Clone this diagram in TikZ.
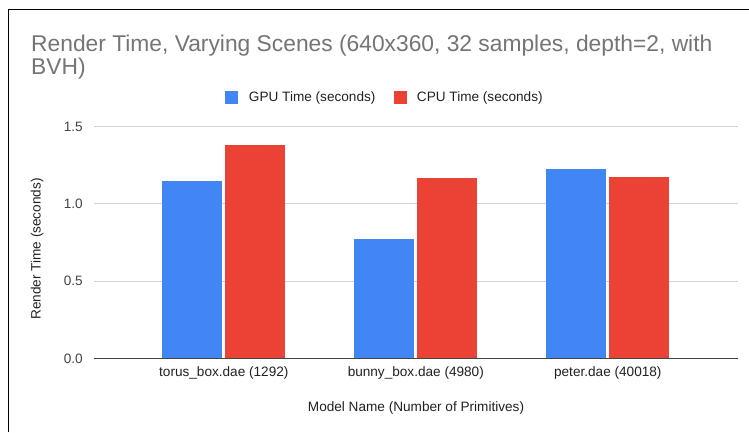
\documentclass[tikz,border=0pt]{standalone}
\usepackage{fontspec}
\setmainfont{Liberation Sans}
\usepackage{xcolor}
\usetikzlibrary{positioning}
\definecolor{gpublue}{HTML}{4285F4}
\definecolor{cpured}{HTML}{EA4335}
\definecolor{titlegray}{HTML}{757575}
\definecolor{gridgray}{HTML}{D4D4D4}
\definecolor{textgray}{HTML}{222222}
\definecolor{tickgray}{HTML}{444444}
\newcommand{\chartfont}{\fontsize{13.6}{16}\selectfont}
\newcommand{\titlefont}{\fontsize{22.8}{26}\selectfont}

\begin{document}
\begin{tikzpicture}[x=1pt,y=-1pt,
    lbl/.style={inner sep=0pt,font=\chartfont,text=textgray},
    tick/.style={inner sep=0pt,font=\chartfont,text=tickgray,anchor=east},
    keybox/.style={inner sep=0pt,minimum size=12.5pt}]
        \useasboundingbox[fill=white] (0,0) rectangle (749,432);
        \draw[black,line width=1pt] (8,432) -- (8,9.3) -- (749,9.3);
        % title
        \node[inner sep=0pt,anchor=base west,font=\titlefont,text=titlegray] (title1) at (31,51.7) {Render Time, Varying Scenes (640x360, 32 samples, depth=2, with};
        \node[inner sep=0pt,anchor=base west,font=\titlefont,text=titlegray] (title2) at (31,74.3) {BVH)};
        % legend
        \node[keybox,fill=gpublue] (gpukey) at (231.3,97.7) {};
        \node[lbl,right=11pt of gpukey] (gpulbl) {GPU Time (seconds)};
        \node[keybox,fill=cpured] (cpukey) at (400.3,97.7) {};
        \node[lbl,right=10pt of cpukey] (cpulbl) {CPU Time (seconds)};
        % grid and ticks
        \foreach \v/\t in {0.5/0.5,1/1.0,1.5/1.5}
          \draw[gridgray,line width=1pt] (94,358.5-154.6*\v) -- (738,358.5-154.6*\v);
        \foreach \v/\t in {0/0.0,0.5/0.5,1/1.0,1.5/1.5}
          \node[tick] (tick\t) at (83,358.5-154.6*\v) {\t};
        % bars
        \foreach \c/\g/\p in {223.8/1.150/1.381,415.8/0.771/1.166,607.8/1.224/1.172}{
          \fill[gpublue] (\c-61.5,358.5) rectangle (\c-1.5,358.5-154.6*\g);
          \fill[cpured] (\c+1.5,358.5) rectangle (\c+61.5,358.5-154.6*\p);
        }
        \draw[tickgray,line width=1pt] (94,358.5) -- (738,358.5);
        % category labels
        \node[lbl,anchor=base] (torus) at (223.8,376.7) {torus\_box.dae (1292)};
        \node[lbl,anchor=base] (bunny) at (415.8,376.7) {bunny\_box.dae (4980)};
        \node[lbl,anchor=base] (peter) at (607.8,376.7) {peter.dae (40018)};
        % axis titles
        \node[lbl,anchor=base] (xtitle) at (416,411.7) {Model Name (Number of Primitives)};
        \node[lbl,rotate=90] (ytitle) at (37,249) {Render Time (seconds)};
      \end{tikzpicture}
\end{document}
